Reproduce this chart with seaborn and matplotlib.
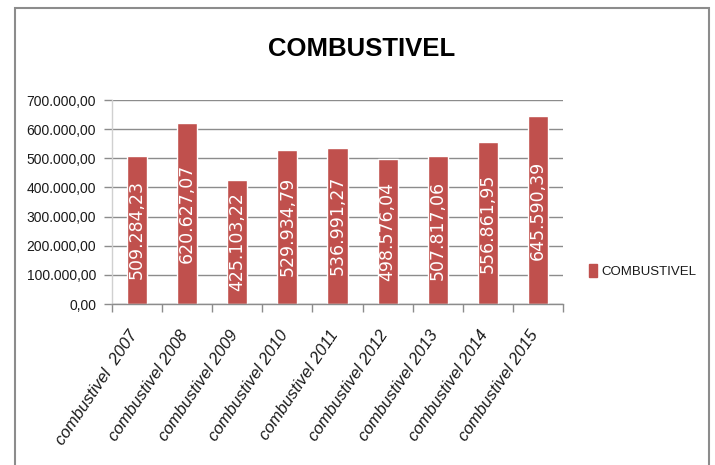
import matplotlib
matplotlib.use("Agg")
import matplotlib.pyplot as plt
import matplotlib.patches as mpatches
import matplotlib.transforms as mtransforms
import seaborn as sns
import pandas as pd

categories = ["combustivel  2007", "combustivel 2008", "combustivel 2009", "combustivel 2010",
              "combustivel 2011", "combustivel 2012", "combustivel 2013", "combustivel 2014",
              "combustivel 2015"]
values = [509284.23, 620627.07, 425103.22, 529934.79, 536991.27, 498576.04, 507817.06,
          556861.95, 645590.39]
value_labels = ["509.284,23", "620.627,07", "425.103,22", "529.934,79", "536.991,27",
                "498.576,04", "507.817,06", "556.861,95", "645.590,39"]
yticks = [0, 100000, 200000, 300000, 400000, 500000, 600000, 700000]
ytick_labels = ["0,00", "100.000,00", "200.000,00", "300.000,00", "400.000,00",
                "500.000,00", "600.000,00", "700.000,00"]
title = "COMBUSTIVEL"
series_name = "COMBUSTIVEL"

sns.set_theme(style="white")
FONT = ["Liberation Sans", "DejaVu Sans"]
plt.rcParams["font.family"] = FONT

BAR = "#C0504D"
GRID = "#8C8C8C"

fig = plt.figure(figsize=(7.15, 4.65), dpi=100)
fig.patch.set_facecolor("white")
ax = fig.add_axes([112 / 715, 1 - 304 / 465, (563 - 112) / 715, (304 - 100) / 465])

df = pd.DataFrame({"cat": categories, "val": values})
sns.barplot(data=df, x="cat", y="val", color=BAR, width=0.4, saturation=1, ax=ax)

ax.bar_label(ax.containers[0], labels=value_labels, label_type="center", rotation=90,
             color="white", fontsize=12.5, family="DejaVu Sans")

ax.set_xlim(-0.5, len(categories) - 0.5)
ax.set_ylim(0, 700000)
ax.set_yticks(yticks)
ax.set_yticklabels(ytick_labels, fontsize=10, color="#1a1a1a")
ax.yaxis.grid(True, color=GRID, linewidth=1)
ax.set_axisbelow(True)
ax.tick_params(axis="y", length=6, width=1, color=GRID, pad=5.5, left=True)

ax.set_xticks(range(len(categories)))
ax.set_xticklabels(categories, rotation=56, ha="right", rotation_mode="anchor",
                   fontsize=12, style="italic", color="#1a1a1a")
ax.set_xticks([i - 0.5 for i in range(len(categories) + 1)], minor=True)
ax.tick_params(axis="x", which="major", length=0, pad=14)
ax.tick_params(axis="x", which="minor", length=6, width=1, color=GRID, bottom=True)
shift = mtransforms.ScaledTranslation(-9 / 100, -4 / 100, fig.dpi_scale_trans)
for lbl in ax.get_xticklabels():
    lbl.set_transform(lbl.get_transform() + shift)

ax.set_xlabel("")
ax.set_ylabel("")
for s in ["top", "right"]:
    ax.spines[s].set_visible(False)
ax.spines["left"].set_color("#D0D0D0")
ax.spines["bottom"].set_color(GRID)
ax.spines["left"].set_linewidth(1)
ax.spines["bottom"].set_linewidth(1)

fig.text(362 / 715, 1 - 49 / 465, title, ha="center", va="center", fontsize=18.5,
         fontweight="bold", color="black")

handle = mpatches.Patch(facecolor=BAR, edgecolor=BAR, label=series_name)
fig.legend(handles=[handle], loc="center left", bbox_to_anchor=(582 / 715, 1 - 271 / 465),
           frameon=False, fontsize=9.5, handlelength=0.6, handleheight=1.1,
           handletextpad=0.35, borderpad=0, labelcolor="#1a1a1a")

border = mpatches.Rectangle((15 / 715, -0.02), (709 - 15) / 715, 1 - 8 / 465 + 0.02,
                            transform=fig.transFigure, fill=False, edgecolor="#8C8C8C",
                            linewidth=1.5)
fig.patches.append(border)

fig.savefig("out.png", dpi=100, facecolor="white")
